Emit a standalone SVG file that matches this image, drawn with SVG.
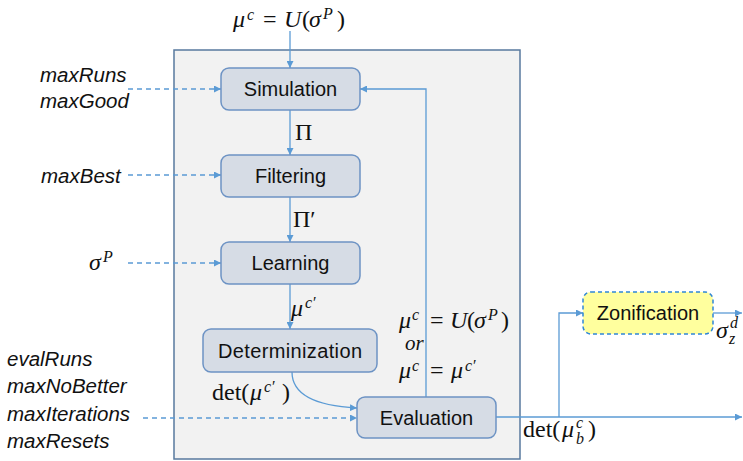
<svg xmlns="http://www.w3.org/2000/svg" width="743" height="461" viewBox="0 0 743 461">
  <style>
    .frame { fill: #F2F2F2; stroke: #58799E; stroke-width: 1.5; }
    .node rect { fill: #D6DCE5; stroke: #6D93C4; stroke-width: 1.5; }
    .node text { font-family: "Liberation Sans", Arial, sans-serif; font-size: 20px; fill: #111; text-anchor: middle; }
    .zon rect { fill: #FFFF9E; stroke: #2F86D6; stroke-width: 1.5; stroke-dasharray: 4 3; }
    .edge { fill: none; stroke: #5B9BD5; stroke-width: 1.3; }
    .dash { stroke-dasharray: 5 4; }
    .param { font-family: "Liberation Sans", Arial, sans-serif; font-style: italic; font-size: 20.5px; fill: #111; }
    .math { font-family: "Liberation Serif", "DejaVu Serif", serif; font-size: 24px; fill: #111; }
    .i { font-style: italic; }
    .s { font-size: 16px; font-style: italic; }
  </style>
  <defs>
    <marker id="arrow" viewBox="0 0 10 10" refX="10" refY="5" markerWidth="7" markerHeight="7" markerUnits="userSpaceOnUse" orient="auto">
      <path d="M0,0 L10,5 L0,10 z" fill="#5B9BD5"/>
    </marker>
  </defs>

  <!-- enclosing loop frame -->
  <rect class="frame" x="174" y="50" width="346" height="409"/>

  <!-- connectors -->
  <g id="connectors">
    <path class="edge" d="M290 31 V68" marker-end="url(#arrow)"/>
    <path class="edge" d="M290 110 V155" marker-end="url(#arrow)"/>
    <path class="edge" d="M290 197 V242" marker-end="url(#arrow)"/>
    <path class="edge" d="M290 284 V329" marker-end="url(#arrow)"/>
    <path class="edge" d="M292 372 C292 396 318 406 357 408" marker-end="url(#arrow)"/>
    <path class="edge" d="M426 397 V89 H360" marker-end="url(#arrow)"/>
    <path class="edge" d="M496 417 H742" marker-end="url(#arrow)"/>
    <path class="edge" d="M559 417 V313 H583" marker-end="url(#arrow)"/>
    <path class="edge" d="M713 313 H742" marker-end="url(#arrow)"/>
    <path class="edge dash" d="M128 89 H221" marker-end="url(#arrow)"/>
    <path class="edge dash" d="M128 175 H221" marker-end="url(#arrow)"/>
    <path class="edge dash" d="M128 263 H221" marker-end="url(#arrow)"/>
    <path class="edge dash" d="M143 418 H357" marker-end="url(#arrow)"/>
  </g>

  <!-- process nodes -->
  <g id="simulation" class="node">
    <rect x="221" y="68" width="139" height="42" rx="8"/>
    <text x="290.5" y="96">Simulation</text>
  </g>
  <g id="filtering" class="node">
    <rect x="221" y="155" width="139" height="42" rx="8"/>
    <text x="290.5" y="183">Filtering</text>
  </g>
  <g id="learning" class="node">
    <rect x="221" y="242" width="139" height="42" rx="8"/>
    <text x="290.5" y="270">Learning</text>
  </g>
  <g id="determinization" class="node">
    <rect x="203" y="329" width="174" height="43" rx="8"/>
    <text x="290" y="358" textLength="144" lengthAdjust="spacing">Determinization</text>
  </g>
  <g id="evaluation" class="node">
    <rect x="357" y="397" width="139" height="41" rx="8"/>
    <text x="426.5" y="425">Evaluation</text>
  </g>
  <g id="zonification" class="node zon">
    <rect x="583" y="292" width="130" height="42" rx="8"/>
    <text x="648" y="320">Zonification</text>
  </g>

  <!-- input parameters -->
  <g id="params">
    <text class="param" x="40" y="82">maxRuns</text>
    <text class="param" x="40" y="108">maxGood</text>
    <text class="param" x="41" y="183">maxBest</text>
    <text class="param" x="7" y="366">evalRuns</text>
    <text class="param" x="7" y="393">maxNoBetter</text>
    <text class="param" x="7" y="421">maxIterations</text>
    <text class="param" x="7" y="448">maxResets</text>
  </g>

  <!-- mathematical labels -->
  <g id="labels" class="math">
    <text y="27"><tspan class="i" x="233">μ</tspan><tspan class="s" x="247" y="20">c</tspan><tspan x="263" y="27">=</tspan><tspan class="i" x="284">U</tspan><tspan x="302">(</tspan><tspan class="i" x="309">σ</tspan><tspan class="s" x="323" y="19">P</tspan><tspan x="337" y="27">)</tspan></text>
    <text y="270"><tspan class="i" x="89">σ</tspan><tspan class="s" x="103" y="262">P</tspan></text>
    <text x="295" y="140">Π</text>
    <text x="293" y="227">Π′</text>
    <text y="316"><tspan class="i" x="291">μ</tspan><tspan class="s" x="305" y="308">c′</tspan></text>
    <text y="400"><tspan x="212">det(</tspan><tspan class="i" x="250">μ</tspan><tspan class="s" x="264" y="392">c′</tspan><tspan x="282" y="400">)</tspan></text>
    <text y="328"><tspan class="i" x="399">μ</tspan><tspan class="s" x="412" y="320">c</tspan><tspan x="430" y="328">=</tspan><tspan class="i" x="450">U</tspan><tspan x="467">(</tspan><tspan class="i" x="474">σ</tspan><tspan class="s" x="488" y="320">P</tspan><tspan x="501" y="328">)</tspan></text>
    <text x="405" y="350" class="i" font-size="21">or</text>
    <text y="378"><tspan class="i" x="399">μ</tspan><tspan class="s" x="412" y="371">c</tspan><tspan x="430" y="378">=</tspan><tspan class="i" x="451">μ</tspan><tspan class="s" x="465" y="371">c′</tspan></text>
    <text y="437"><tspan x="523">det(</tspan><tspan class="i" x="562">μ</tspan><tspan class="s" x="576" y="428">c</tspan><tspan class="s" x="576" y="444">b</tspan><tspan x="588" y="437">)</tspan></text>
    <text y="338"><tspan class="i" x="716">σ</tspan><tspan class="s" x="730" y="328">d</tspan><tspan class="s" x="729" y="344">z</tspan></text>
  </g>
</svg>
